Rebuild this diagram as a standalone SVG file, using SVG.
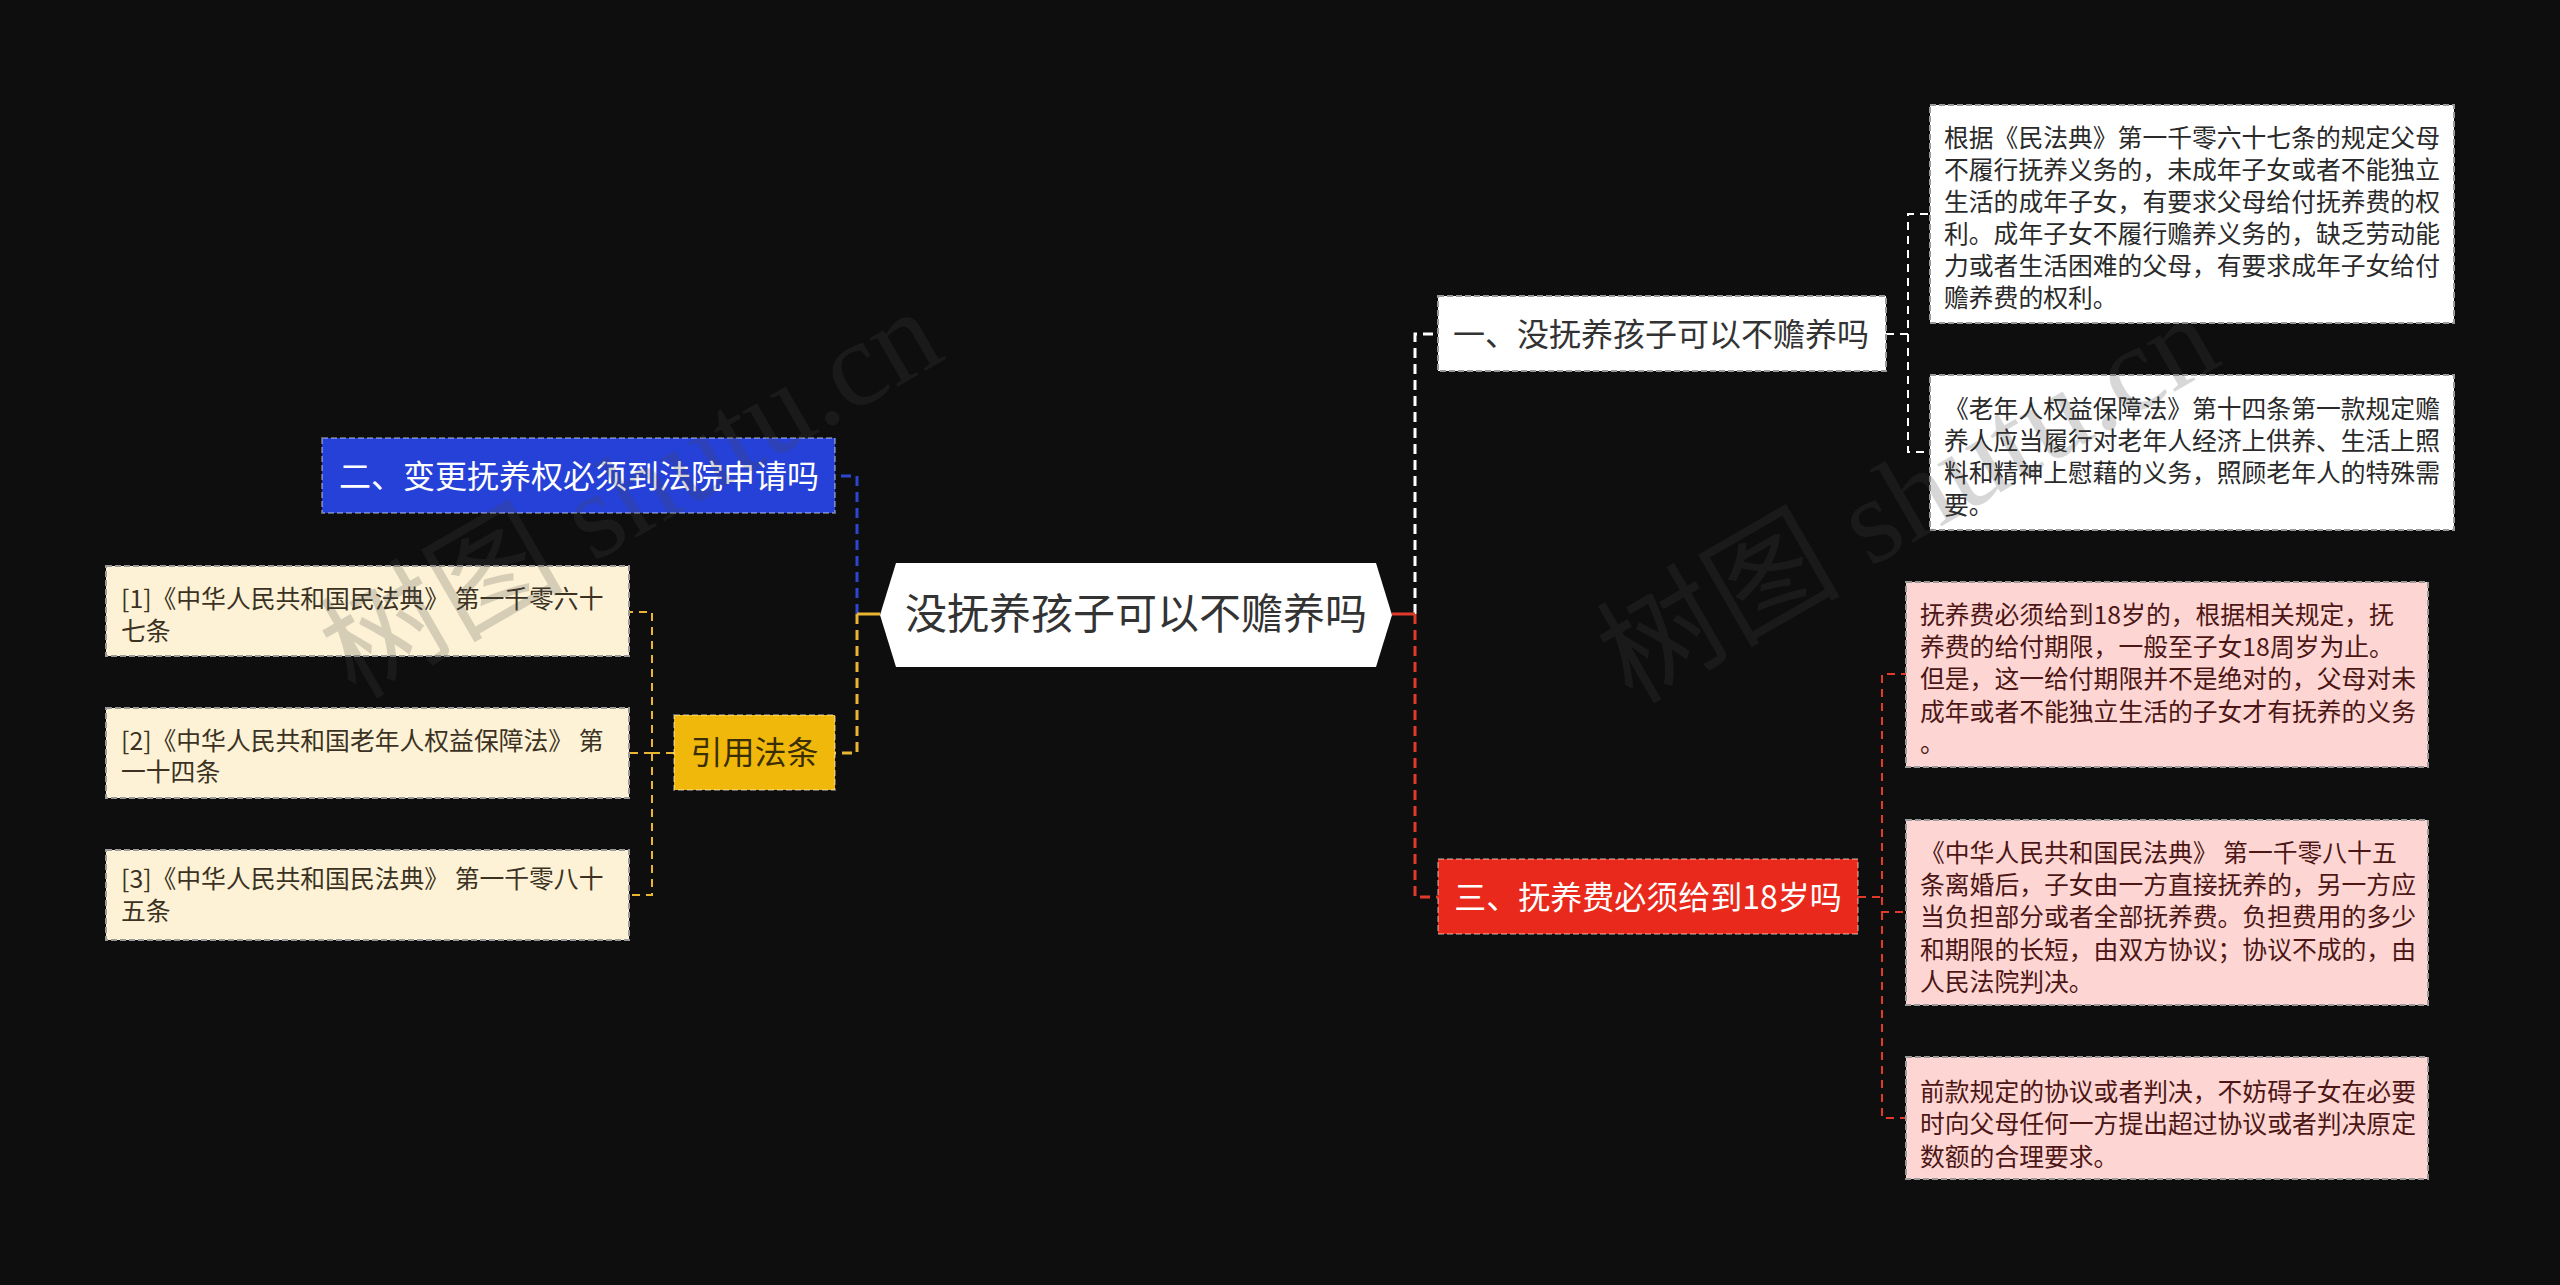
<svg xmlns="http://www.w3.org/2000/svg" width="2560" height="1285" viewBox="0 0 2560 1285">
<defs>
<style>
.t{font-family:"Noto Sans CJK SC","Noto Sans",sans-serif;}
.c0{font-size:42px;fill:#333333;text-anchor:middle;}
.l1{font-size:32px;text-anchor:middle;}
.leaf{font-size:24.8px;}
.main{fill:none;stroke-width:3;stroke-dasharray:10 6;}
.solid{fill:none;stroke-width:3;}
.sub{fill:none;stroke-width:2;stroke-dasharray:8 6;}
.bLight{stroke:#9a9a9a;stroke-width:2;stroke-dasharray:6 3;}
.bColor{stroke:rgba(255,255,255,0.35);stroke-width:2;stroke-dasharray:6 3;}
.wm{font-family:"Liberation Serif","Noto Sans CJK SC",serif;font-size:122px;fill:#4a4a4a;fill-opacity:0.22;}
</style>
</defs>
<rect x="0" y="0" width="2560" height="1285" fill="#0e0e0e"/>

<g id="connectors">
  <path class="main" stroke="#e9b532" d="M857,614 V753 H835"/>
  <path class="main" stroke="#2c46d0" d="M857,614 V476 H835"/>
  <path class="solid" stroke="#e9b532" d="M880,614 H857"/>
  <path class="main" stroke="#ffffff" d="M1415,614 V334 H1438"/>
  <path class="main" stroke="#e03a2a" d="M1415,614 V897 H1438"/>
  <path class="solid" stroke="#e03a2a" d="M1392,614 H1415"/>
  <path class="sub" stroke="#ffffff" d="M1886,334 H1908 V214 H1930"/>
  <path class="sub" stroke="#ffffff" d="M1908,334 V452 H1930"/>
  <path class="sub" stroke="#e03a2a" d="M1858,897 H1882 V674 H1906"/>
  <path class="sub" stroke="#e03a2a" d="M1882,897 V912 H1906"/>
  <path class="sub" stroke="#e03a2a" d="M1882,912 V1118 H1906"/>
  <path class="sub" stroke="#e9b532" d="M674,753 H652 V612 H629"/>
  <path class="sub" stroke="#e9b532" d="M652,753 H629"/>
  <path class="sub" stroke="#e9b532" d="M652,753 V895 H629"/>
</g>

<g id="node-center">
  <polygon points="880,615 896,563 1376,563 1392,615 1376,667 896,667" fill="#ffffff"/>
  <text class="t c0" x="1136" y="629">没抚养孩子可以不赡养吗</text>
</g>

<g id="node-2">
  <rect class="bColor" x="322" y="438" width="513" height="75" fill="#2641d8"/>
  <text class="t l1" x="579" y="488" fill="#ffffff">二、变更抚养权必须到法院申请吗</text>
</g>

<g id="node-cite">
  <rect class="bColor" x="674" y="715" width="161" height="75" fill="#f1b80c"/>
  <text class="t l1" x="754.5" y="764" fill="#3a2e05">引用法条</text>
</g>

<g id="node-cite-1">
  <rect class="bLight" x="106" y="566" width="523" height="90" fill="#fdf2d5"/>
  <text class="t leaf" fill="#3b3224"><tspan x="121" y="608">[1]《中华人民共和国民法典》 第一千零六十</tspan><tspan x="121" y="640">七条</tspan></text>
</g>
<g id="node-cite-2">
  <rect class="bLight" x="106" y="708" width="523" height="90" fill="#fdf2d5"/>
  <text class="t leaf" fill="#3b3224"><tspan x="121" y="749.5">[2]《中华人民共和国老年人权益保障法》 第</tspan><tspan x="121" y="781">一十四条</tspan></text>
</g>
<g id="node-cite-3">
  <rect class="bLight" x="106" y="850" width="523" height="90" fill="#fdf2d5"/>
  <text class="t leaf" fill="#3b3224"><tspan x="121" y="888">[3]《中华人民共和国民法典》 第一千零八十</tspan><tspan x="121" y="920">五条</tspan></text>
</g>

<g id="node-1">
  <rect class="bLight" x="1438" y="296" width="448" height="75" fill="#ffffff"/>
  <text class="t l1" x="1661" y="346" fill="#333333">一、没抚养孩子可以不赡养吗</text>
</g>

<g id="node-1a">
  <rect class="bLight" x="1930" y="105" width="524" height="218" fill="#ffffff"/>
  <text class="t leaf" fill="#2a2a2a"><tspan x="1944" y="147">根据《民法典》第一千零六十七条的规定父母</tspan><tspan x="1944" y="179">不履行抚养义务的，未成年子女或者不能独立</tspan><tspan x="1944" y="211">生活的成年子女，有要求父母给付抚养费的权</tspan><tspan x="1944" y="243">利。成年子女不履行赡养义务的，缺乏劳动能</tspan><tspan x="1944" y="275">力或者生活困难的父母，有要求成年子女给付</tspan><tspan x="1944" y="307">赡养费的权利。</tspan></text>
</g>

<g id="node-1b">
  <rect class="bLight" x="1930" y="375" width="524" height="155" fill="#ffffff"/>
  <text class="t leaf" fill="#2a2a2a"><tspan x="1944" y="417.5">《老年人权益保障法》第十四条第一款规定赡</tspan><tspan x="1944" y="449.5">养人应当履行对老年人经济上供养、生活上照</tspan><tspan x="1944" y="481.5">料和精神上慰藉的义务，照顾老年人的特殊需</tspan><tspan x="1944" y="513.5">要。</tspan></text>
</g>

<g id="node-3">
  <rect class="bColor" x="1438" y="859" width="420" height="75" fill="#e8291b"/>
  <text class="t l1" x="1648" y="909" fill="#ffffff">三、抚养费必须给到18岁吗</text>
</g>

<g id="node-3a">
  <rect class="bLight" x="1906" y="582" width="522" height="185" fill="#fdd6d3"/>
  <text class="t leaf" fill="#4d1616"><tspan x="1920" y="623.5">抚养费必须给到18岁的，根据相关规定，抚</tspan><tspan x="1920" y="656">养费的给付期限，一般至子女18周岁为止。</tspan><tspan x="1920" y="688">但是，这一给付期限并不是绝对的，父母对未</tspan><tspan x="1920" y="720.5">成年或者不能独立生活的子女才有抚养的义务</tspan><tspan x="1920" y="752">。</tspan></text>
</g>

<g id="node-3b">
  <rect class="bLight" x="1906" y="820" width="522" height="185" fill="#fdd6d3"/>
  <text class="t leaf" fill="#4d1616"><tspan x="1920" y="862">《中华人民共和国民法典》 第一千零八十五</tspan><tspan x="1920" y="894">条离婚后，子女由一方直接抚养的，另一方应</tspan><tspan x="1920" y="926">当负担部分或者全部抚养费。负担费用的多少</tspan><tspan x="1920" y="959">和期限的长短，由双方协议；协议不成的，由</tspan><tspan x="1920" y="991">人民法院判决。</tspan></text>
</g>

<g id="node-3c">
  <rect class="bLight" x="1906" y="1057" width="522" height="122" fill="#fdd6d3"/>
  <text class="t leaf" fill="#4d1616"><tspan x="1920" y="1100.5">前款规定的协议或者判决，不妨碍子女在必要</tspan><tspan x="1920" y="1133">时向父母任何一方提出超过协议或者判决原定</tspan><tspan x="1920" y="1165.5">数额的合理要求。</tspan></text>
</g>

<g id="watermark">
  <text class="wm" transform="translate(355,700) rotate(-30)">树图 shutu.cn</text>
  <text class="wm" transform="translate(1632,705) rotate(-30)">树图 shutu.cn</text>
</g>
</svg>
